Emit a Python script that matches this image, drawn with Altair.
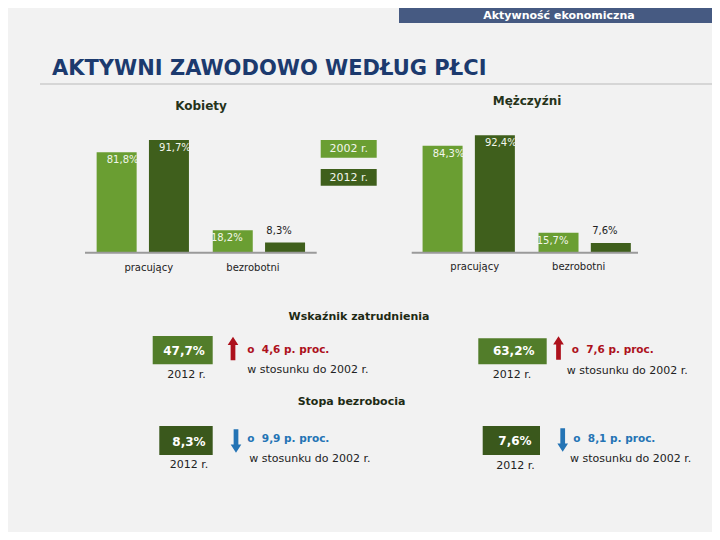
import altair as alt
import pandas as pd

# ---------------- data ----------------
categories = ["pracujący", "bezrobotni"]
years = ["2002 r.", "2012 r."]
women_2002 = [81.8, 18.2]
women_2012 = [91.7, 8.3]
men_2002 = [84.3, 15.7]
men_2012 = [92.4, 7.6]

emp_rate_2012 = [47.7, 63.2]        # kobiety, mężczyźni
emp_change = [4.6, 7.6]             # wzrost, p. proc.
unemp_rate_2012 = [8.3, 7.6]
unemp_change = [9.9, 8.1]           # spadek, p. proc.

# ---------------- style ----------------
OFF = 8
LIGHT = "#6a9e32"
DARK = "#3f5f1c"
BOX_EMP = "#527d2a"
BOX_UNEMP = "#3a581c"
RED = "#ad111c"
BLUE = "#2474b5"
NAVY = "#1c3a6e"
HEADER = "#465a82"
INK = "#222222"
FONT = "DejaVu Sans"
NBSP = "\u00a0"


def pl(v):
    return f"{v:.1f}".replace(".", ",")


def panel_df(v2002, v2012):
    rows = []
    for c, a, b in zip(categories, v2002, v2012):
        rows.append({"cat": c, "year": years[0], "value": a, "label": pl(a) + "%"})
        rows.append({"cat": c, "year": years[1], "value": b, "label": pl(b) + "%"})
    return pd.DataFrame(rows)


one = alt.Data(values=[{"a": 1}])


def txt(s, x, y, size=11, color=INK, weight="normal", align="center", baseline="middle"):
    return alt.Chart(one).mark_text(
        text=s, fontSize=size, color=color, fontWeight=weight, align=align,
        baseline=baseline, font=FONT
    ).encode(x=alt.value(x - OFF), y=alt.value(y - OFF))


def box(x1, y1, x2, y2, color):
    return alt.Chart(one).mark_rect(color=color).encode(
        x=alt.value(x1 - OFF), x2=alt.value(x2 - OFF),
        y=alt.value(y1 - OFF), y2=alt.value(y2 - OFF))


def hline(x1, x2, y, color, w):
    return alt.Chart(one).mark_rule(color=color, strokeWidth=w).encode(
        x=alt.value(x1 - OFF), x2=alt.value(x2 - OFF), y=alt.value(y - OFF))


UP = "M-0.2,1 L0.2,1 L0.2,-0.3 L0.45,-0.3 L0,-1 L-0.45,-0.3 L-0.2,-0.3 Z"
DOWN = "M-0.2,-1 L0.2,-1 L0.2,0.3 L0.45,0.3 L0,1 L-0.45,0.3 L-0.2,0.3 Z"


def arrow(x, y, up, color):
    return alt.Chart(one).mark_point(
        shape=UP if up else DOWN, size=560, filled=True, color=color,
        opacity=1, strokeWidth=0
    ).encode(x=alt.value(x - OFF), y=alt.value(y - OFF))


def change_text(v):
    return f"o{NBSP} {pl(v)} p. proc."


color_scale = alt.Scale(domain=years, range=[LIGHT, DARK])
BAR_W = 40
SHIFT = 26.15


def panel(df, x0, x1, base_y, px_per_pct, rule_x0, rule_x1, label_y):
    xs = alt.Scale(domain=categories, range=[x0 - OFF, x1 - OFF],
                   paddingInner=0.206, paddingOuter=0)
    b = base_y - OFF
    ys = alt.Scale(domain=[0, 100], range=[b, b - 100 * px_per_pct])
    X = alt.X("cat:N", scale=xs, axis=None, sort=categories)
    Y = alt.Y("value:Q", scale=ys, axis=None)
    out = []
    for i, yr in enumerate(years):
        sh = -SHIFT if i == 0 else SHIFT
        sel = alt.Chart(df).transform_filter(f"datum.year == '{yr}'")
        out.append(sel.mark_bar(width=BAR_W, xOffset=sh).encode(
            x=X, y=Y, color=alt.Color("year:N", scale=color_scale, legend=None)))
        out.append(sel.transform_filter("datum.value > 10").mark_text(
            baseline="middle", dy=8, dx=sh, fontSize=10, color="#f2f6ec", font=FONT
        ).encode(x=X, y=Y, text="label:N"))
        out.append(sel.transform_filter("datum.value <= 10").mark_text(
            baseline="middle", dy=-12, dx=sh, fontSize=10, color=INK, font=FONT
        ).encode(x=X, y=Y, text="label:N"))
    out.append(alt.Chart(df).transform_filter(f"datum.year == '{years[0]}'").mark_text(
        baseline="middle", fontSize=10, color=INK, font=FONT
    ).encode(x=X, y=alt.value(label_y - OFF), text="cat:N"))
    out.append(hline(rule_x0, rule_x1, base_y, "#9a9a9a", 2))
    return out


women = panel(panel_df(women_2002, women_2012), 96.7, 305, 252.7, 1.228, 85, 316.7, 268.3)
men = panel(panel_df(men_2002, men_2012), 422.7, 630.7, 252.7, 1.27, 411.7, 638, 267)

layers = [
    # header
    box(399, 0, 720, 23, HEADER),
    txt("Aktywność ekonomiczna", 559, 15.5, size=11, color="white", weight="bold"),
    # title
    txt("AKTYWNI ZAWODOWO WEDŁUG PŁCI", 52, 75, size=21, color=NAVY, weight="bold",
        align="left", baseline="alphabetic"),
    hline(40, 720, 84, "#d6d6d6", 2),
    # panel titles
    txt("Kobiety", 201, 105.7, size=12, color="#25331a", weight="bold"),
    txt("Mężczyźni", 527, 101, size=12, color="#25331a", weight="bold"),
    # legend
    box(320.7, 140, 376.7, 157.7, LIGHT),
    txt(years[0], 348.7, 149, size=11, color="#f2f6ec"),
    box(320.7, 169, 376.7, 185.7, DARK),
    txt(years[1], 348.7, 177.5, size=11, color="#f2f6ec"),
    *women,
    *men,
    # Wskaźnik zatrudnienia
    txt("Wskaźnik zatrudnienia", 359, 317, size=11, color="#1e2a14", weight="bold"),
    box(152.7, 336, 212.7, 364.3, BOX_EMP),
    txt(pl(emp_rate_2012[0]) + "%", 184, 351, size=12, color="white", weight="bold"),
    txt("2012 r.", 186.5, 375),
    arrow(233, 348.5, True, RED),
    txt(change_text(emp_change[0]), 247.3, 350, size=10.5, color=RED,
        weight="bold", align="left"),
    txt("w stosunku do 2002 r.", 247.3, 370, align="left"),
    box(478.3, 338.3, 546.7, 364.3, BOX_EMP),
    txt(pl(emp_rate_2012[1]) + "%", 513.7, 351, size=12, color="white", weight="bold"),
    txt("2012 r.", 512, 375),
    arrow(558.5, 348, True, RED),
    txt(change_text(emp_change[1]), 571.7, 350, size=10.5, color=RED,
        weight="bold", align="left"),
    txt("w stosunku do 2002 r.", 566.7, 370.7, align="left"),
    # Stopa bezrobocia
    txt("Stopa bezrobocia", 351.5, 402, size=11, color="#1e2a14", weight="bold"),
    box(159.3, 426, 212.7, 455, BOX_UNEMP),
    txt(pl(unemp_rate_2012[0]) + "%", 189, 441.5, size=12, color="white", weight="bold"),
    txt("2012 r.", 189, 465),
    arrow(236, 441, False, BLUE),
    txt(change_text(unemp_change[0]), 247.3, 439.3, size=10.5, color=BLUE,
        weight="bold", align="left"),
    txt("w stosunku do 2002 r.", 249.3, 459.3, align="left"),
    box(482.7, 426, 540, 455, BOX_UNEMP),
    txt(pl(unemp_rate_2012[1]) + "%", 515, 440.7, size=12, color="white", weight="bold"),
    txt("2012 r.", 515.5, 466),
    arrow(562.7, 440, False, BLUE),
    txt(change_text(unemp_change[1]), 573.3, 439.3, size=10.5, color=BLUE,
        weight="bold", align="left"),
    txt("w stosunku do 2002 r.", 570, 459.3, align="left"),
]

chart = alt.layer(*layers).resolve_scale(
    x="independent", y="independent"
).properties(
    width=704, height=524, padding=0, autosize="none", background="#f2f2f2"
).configure_view(stroke=None)

chart.save("out.html", embed_options={"renderer": "svg", "actions": False})
